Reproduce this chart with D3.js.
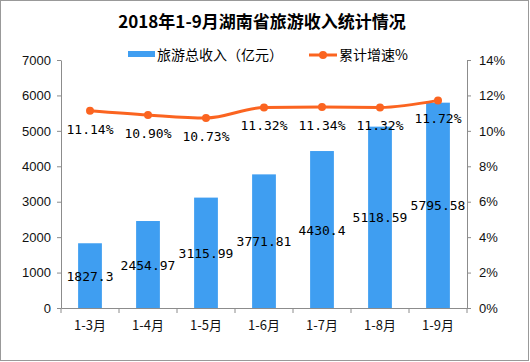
<!DOCTYPE html>
<html>
<head>
<meta charset="utf-8">
<script src="https://cdn.jsdelivr.net/npm/d3@7"></script>
<style>
  body { margin: 0; background: #fff; }
  svg { display: block; }
</style>
</head>
<body>
<svg width="530" height="362"></svg>
<script>
var months = ["1-3月", "1-4月", "1-5月", "1-6月", "1-7月", "1-8月", "1-9月"];
var income = [1827.3, 2454.97, 3115.99, 3771.81, 4430.4, 5118.59, 5795.58];
var growth = [11.14, 10.90, 10.73, 11.32, 11.34, 11.32, 11.72];
var incomeLabels = ["1827.3", "2454.97", "3115.99", "3771.81", "4430.4", "5118.59", "5795.58"];
var growthLabels = ["11.14%", "10.90%", "10.73%", "11.32%", "11.34%", "11.32%", "11.72%"];
var leftTicks = [0, 1000, 2000, 3000, 4000, 5000, 6000, 7000];
var rightTicks = [0, 2, 4, 6, 8, 10, 12, 14];

var barColor = "#3f9ef1";
var lineColor = "#fb6420";
var axisColor = "#8c8c8c";

var svg = d3.select("svg");
var plotLeft = 61, plotRight = 467, plotTop = 60, plotBottom = 308;

// outer frame
svg.append("rect")
  .attr("x", 0.5).attr("y", 0.5)
  .attr("width", 528).attr("height", 360)
  .style("fill", "#fff")
  .style("stroke", "#999");

var x = d3.scaleBand().domain(months).range([plotLeft, plotRight]).paddingInner(0.59).paddingOuter(0.295);
var xBand = d3.scaleBand().domain(months).range([plotLeft, plotRight]);
var y = d3.scaleLinear().domain([0, 7000]).range([plotBottom, plotTop]);
var y2 = d3.scaleLinear().domain([0, 14]).range([plotBottom, plotTop]);

// title
svg.append("text")
  .attr("x", 262).attr("y", 28)
  .attr("text-anchor", "middle")
  .style("font-family", "'Noto Sans CJK SC', sans-serif")
  .style("font-weight", "bold")
  .style("font-size", "17px")
  .text("2018年1-9月湖南省旅游收入统计情况");

// legend
svg.append("rect").attr("x", 128).attr("y", 51).attr("width", 27).attr("height", 6).style("fill", barColor);
svg.append("text").attr("x", 157).attr("y", 60)
  .style("font-family", "'Noto Sans CJK SC', sans-serif").style("font-size", "14px")
  .text("旅游总收入（亿元）");
svg.append("line").attr("x1", 309).attr("x2", 337).attr("y1", 55).attr("y2", 55)
  .style("stroke", lineColor).style("stroke-width", 3);
svg.append("circle").attr("cx", 323).attr("cy", 55).attr("r", 4).style("fill", lineColor);
svg.append("text").attr("x", 339).attr("y", 60)
  .style("font-family", "'Noto Sans CJK SC', sans-serif").style("font-size", "14px")
  .text("累计增速%");

// bars
svg.selectAll("rect.bar")
  .data(income)
  .enter()
  .append("rect")
  .attr("class", "bar")
  .attr("x", function(d, i) { return x(months[i]); })
  .attr("y", function(d) { return y(d); })
  .attr("width", x.bandwidth())
  .attr("height", function(d) { return plotBottom - y(d); })
  .style("fill", barColor);

// axes
var yAxis = svg.append("g")
  .attr("transform", "translate(" + plotLeft + ",0)")
  .call(d3.axisLeft(y).tickValues(leftTicks).tickSize(4).tickPadding(6).tickSizeOuter(0)
    .tickFormat(d3.format("d")));
var y2Axis = svg.append("g")
  .attr("transform", "translate(" + plotRight + ",0)")
  .call(d3.axisRight(y2).tickValues(rightTicks).tickSize(4).tickPadding(8).tickSizeOuter(0)
    .tickFormat(function(d) { return d + "%"; }));

var xAxis = svg.append("g")
  .attr("transform", "translate(0," + plotBottom + ")")
  .call(d3.axisBottom(xBand).tickSize(0).tickPadding(13));
// category boundary ticks
svg.selectAll("line.xtick")
  .data(d3.range(months.length + 1))
  .enter()
  .append("line")
  .attr("class", "xtick")
  .attr("x1", function(i) { return plotLeft + i * xBand.bandwidth(); })
  .attr("x2", function(i) { return plotLeft + i * xBand.bandwidth(); })
  .attr("y1", plotBottom).attr("y2", plotBottom + 5)
  .style("stroke", axisColor);

[yAxis, y2Axis, xAxis].forEach(function(g) {
  g.selectAll("path, line").style("stroke", axisColor);
  g.selectAll("text")
    .style("font-family", "'Liberation Sans', Arial, sans-serif")
    .style("font-size", "13px")
    .style("fill", "#111");
});
xAxis.selectAll("text").style("font-family", "'Noto Sans CJK SC', sans-serif").style("font-size", "13px");

// bar labels
svg.selectAll("text.vlabel")
  .data(income)
  .enter()
  .append("text")
  .attr("class", "vlabel")
  .attr("x", function(d, i) { return xBand(months[i]) + xBand.bandwidth() / 2; })
  .attr("y", function(d) { return (y(d) + plotBottom) / 2 + 5; })
  .attr("text-anchor", "middle")
  .style("font-family", "'DejaVu Sans Mono', monospace")
  .style("font-size", "13px")
  .text(function(d, i) { return incomeLabels[i]; });

// growth line
var line = d3.line()
  .x(function(d, i) { return xBand(months[i]) + xBand.bandwidth() / 2; })
  .y(function(d) { return y2(d); })
  .curve(d3.curveMonotoneX);

svg.append("path")
  .datum(growth)
  .attr("d", line)
  .style("fill", "none")
  .style("stroke", lineColor)
  .style("stroke-width", 3);

svg.selectAll("circle.pt")
  .data(growth)
  .enter()
  .append("circle")
  .attr("class", "pt")
  .attr("cx", function(d, i) { return xBand(months[i]) + xBand.bandwidth() / 2; })
  .attr("cy", function(d) { return y2(d); })
  .attr("r", 4)
  .style("fill", lineColor);

svg.selectAll("text.glabel")
  .data(growth)
  .enter()
  .append("text")
  .attr("class", "glabel")
  .attr("x", function(d, i) { return xBand(months[i]) + xBand.bandwidth() / 2; })
  .attr("y", function(d) { return y2(d) + 23; })
  .attr("text-anchor", "middle")
  .style("font-family", "'DejaVu Sans Mono', monospace")
  .style("font-size", "13px")
  .text(function(d, i) { return growthLabels[i]; });
</script>
</body>
</html>
